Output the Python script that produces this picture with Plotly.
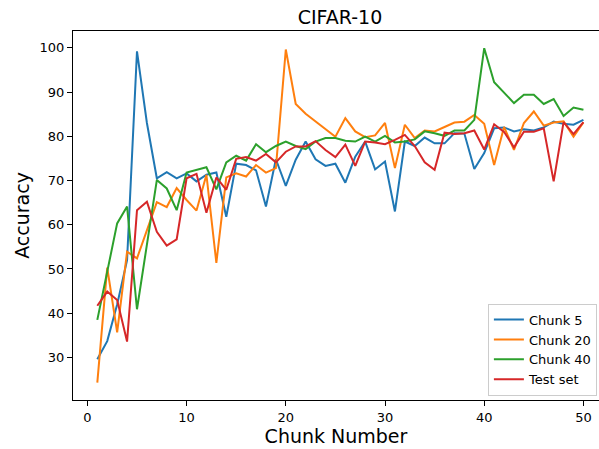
import plotly.graph_objects as go

chunks = list(range(1, 51))

chunk5 = [29.6, 33.7, 42.0, 52.0, 99.2, 83.0, 70.5, 71.9, 70.5, 71.6,
          69.8, 71.3, 71.8, 61.8, 73.8, 73.5, 72.3, 64.1, 74.8, 68.8,
          74.7, 78.8, 74.8, 73.3, 73.8, 69.5, 75.4, 78.8, 72.5, 74.3,
          63.0, 78.8, 77.8, 79.7, 78.4, 78.4, 80.7, 80.6, 72.6, 76.2,
          81.8, 82.0, 81.1, 81.6, 81.3, 82.0, 83.3, 82.8, 82.6, 83.7]

chunk20 = [24.3, 50.3, 35.7, 53.9, 52.4, 58.8, 65.1, 64.0, 68.3, 65.6,
           63.2, 71.3, 51.4, 70.7, 71.6, 70.9, 73.5, 71.8, 72.8, 99.6,
           87.3, 85.1, 83.4, 81.8, 79.9, 84.1, 81.1, 79.8, 80.2, 83.0,
           72.8, 82.6, 79.6, 81.3, 81.1, 82.1, 83.1, 83.3, 84.8, 82.8,
           73.5, 82.1, 76.9, 83.0, 85.6, 82.4, 83.1, 83.4, 79.9, 83.1]

chunk40 = [38.5, 49.4, 60.3, 64.1, 40.9, 55.5, 70.1, 68.2, 63.3, 71.8,
           72.4, 73.0, 68.0, 74.1, 75.6, 74.5, 78.2, 76.4, 77.8, 78.8,
           77.8, 77.1, 78.8, 79.6, 79.6, 79.0, 78.8, 79.9, 78.8, 80.1,
           78.6, 78.8, 79.3, 81.1, 80.7, 80.1, 81.3, 81.3, 83.7, 99.9,
           92.2, 89.9, 87.5, 89.4, 89.4, 87.3, 88.4, 84.6, 86.5, 86.0]

test_set = [41.7, 44.9, 43.0, 33.6, 63.3, 65.2, 58.4, 55.3, 56.7, 70.5,
            71.5, 62.7, 70.7, 67.9, 74.9, 75.3, 74.5, 76.0, 74.1, 76.5,
            77.7, 77.7, 78.9, 76.9, 75.3, 78.1, 73.3, 78.8, 78.6, 78.2,
            79.2, 80.3, 77.8, 74.1, 72.4, 80.8, 80.5, 80.7, 81.3, 77.0,
            82.7, 81.0, 77.5, 81.0, 81.0, 81.8, 69.8, 83.2, 80.5, 83.2]

series = [("Chunk 5", chunk5, "#1f77b4"),
          ("Chunk 20", chunk20, "#ff7f0e"),
          ("Chunk 40", chunk40, "#2ca02c"),
          ("Test set", test_set, "#d62728")]

xticks = [0, 10, 20, 30, 40, 50]
yticks = [30, 40, 50, 60, 70, 80, 90, 100]

fig = go.Figure()
for name, vals, color in series:
    fig.add_trace(go.Scatter(x=chunks, y=vals, mode="lines", name=name,
                             line=dict(color=color, width=2)))

font = "DejaVu Sans, sans-serif"
fig.update_layout(
    width=599, height=449,
    margin=dict(l=73, r=0, t=31, b=49, autoexpand=False),
    paper_bgcolor="white", plot_bgcolor="white",
    font=dict(family=font, color="black", size=13),
    title=dict(text="CIFAR-10", x=0.5076, xref="paper", xanchor="center",
               y=1 - 17 / 449, yref="container", yanchor="middle",
               font=dict(size=19, family=font, color="black"),
               automargin=False),
    xaxis=dict(range=[-1.45, 51.57], tickvals=xticks, ticks="outside", ticklen=5,
               tickwidth=1, tickcolor="black", showline=True, linecolor="black",
               linewidth=1, mirror=True, showgrid=False, zeroline=False,
               tickfont=dict(size=13), automargin=False,
               title=dict(text="Chunk Number", font=dict(size=19), standoff=6)),
    yaxis=dict(range=[20.39, 103.79], tickvals=yticks, ticks="outside", ticklen=5,
               tickwidth=1, tickcolor="black", showline=True, linecolor="black",
               linewidth=1, mirror=False, showgrid=False, zeroline=False,
               tickfont=dict(size=13), automargin=False,
               title=dict(text="Accuracy", font=dict(size=19), standoff=4)),
    legend=dict(x=0.996, y=0.012, xanchor="right", yanchor="bottom",
                bgcolor="rgba(255,255,255,0.8)", bordercolor="#cccccc",
                borderwidth=1, font=dict(size=13), tracegroupgap=0,
                itemwidth=30),
    showlegend=True,
)

fig.write_html("out.html", config={"displayModeBar": False},
               post_script="document.body.style.margin='0';document.body.style.overflow='hidden';")
